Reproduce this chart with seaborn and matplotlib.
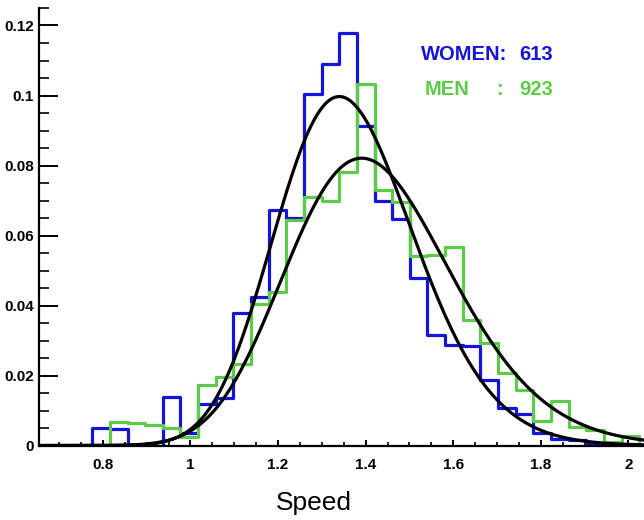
import numpy as np
import pandas as pd
import matplotlib
matplotlib.use("Agg")
import matplotlib.pyplot as plt
from matplotlib.ticker import MultipleLocator, FuncFormatter
import seaborn as sns

# --------------------------------------------------------------------------
# data (fraction of walkers per speed bin)
# --------------------------------------------------------------------------
bin_edges = list(np.linspace(0.655, 2.065, 36))

women_frac = [0, 0, 0, 0.005, 0.0048, 0, 0, 0.0139, 0.0035, 0.012,
              0.0135, 0.038, 0.0425, 0.0672, 0.065, 0.1004, 0.1089, 0.118, 0.0913, 0.070,
              0.0646, 0.0478, 0.0317, 0.0288, 0.0283, 0.0187, 0.0106, 0.009, 0.0037, 0.002,
              0.0015, 0.0005, 0, 0, 0]
men_frac = [0, 0, 0, 0, 0.0068, 0.0063, 0.0059, 0.0051, 0.0023, 0.0173,
            0.0197, 0.0233, 0.0404, 0.044, 0.0645, 0.071, 0.0699, 0.078, 0.1034, 0.073,
            0.0697, 0.054, 0.0544, 0.0568, 0.0359, 0.0292, 0.0206, 0.0159, 0.0071, 0.0127,
            0.0052, 0.0044, 0.001, 0.0026, 0]

# fitted curves (log-normal shape): mode, peak height, sigma of ln(speed)
women_fit = (1.340, 0.0997, 0.118)
men_fit = (1.391, 0.0821, 0.135)

n_women, n_men = 613, 923

BLUE = "#1414dc"
GREEN = "#5ccb48"

centers = [0.5 * (a + b) for a, b in zip(bin_edges[:-1], bin_edges[1:])]
df = pd.DataFrame({
    "speed": centers + centers,
    "frac": women_frac + men_frac,
    "group": ["women"] * len(centers) + ["men"] * len(centers),
})

sns.set_style("ticks")
plt.rcParams["font.family"] = ["Liberation Sans", "DejaVu Sans"]
plt.rcParams["text.color"] = "black"
plt.rcParams["xtick.color"] = "black"
plt.rcParams["ytick.color"] = "black"
plt.rcParams["axes.edgecolor"] = "black"

fig = plt.figure(figsize=(6.44, 5.2), dpi=100)
ax = fig.add_axes([39.3 / 644, 74.5 / 520, 1.41 * 438 / 644, 437.5 / 520])

for grp, col in [("women", BLUE), ("men", GREEN)]:
    sub = df[df.group == grp]
    sns.histplot(x=sub["speed"].values, weights=sub["frac"].values, bins=bin_edges,
                 element="step", fill=False, color=col, linewidth=2.3, ax=ax)

xs = np.linspace(bin_edges[0], bin_edges[-1], 400)
for mode, peak, sig in [women_fit, men_fit]:
    ys = peak * np.exp(-(np.log(xs) - np.log(mode)) ** 2 / (2 * sig ** 2))
    sns.lineplot(x=xs, y=ys, color="black", linewidth=2.3, ax=ax)

ax.set_xlim(bin_edges[0], bin_edges[-1])
ax.set_ylim(0, 0.125)
ax.set_xlabel("")
ax.set_ylabel("")
sns.despine(ax=ax)
for s in ["left", "bottom"]:
    ax.spines[s].set_linewidth(1.6)

ax.xaxis.set_major_locator(MultipleLocator(0.2))
ax.xaxis.set_minor_locator(MultipleLocator(0.05))
ax.yaxis.set_major_locator(MultipleLocator(0.02))
ax.yaxis.set_minor_locator(MultipleLocator(0.005))
fmt = FuncFormatter(lambda v, p: "%g" % round(v, 4))
ax.xaxis.set_major_formatter(fmt)
ax.yaxis.set_major_formatter(fmt)

ax.tick_params(axis="x", which="major", direction="in", length=4.5, width=1.4, pad=9,
               labelsize=11)
ax.tick_params(axis="x", which="minor", direction="in", length=3, width=1.2)
ax.tick_params(axis="y", which="major", direction="in", length=14, width=1.4, pad=4,
               labelsize=11)
ax.tick_params(axis="y", which="minor", direction="in", length=7, width=1.2)
for lab in ax.get_xticklabels() + ax.get_yticklabels():
    lab.set_fontweight("bold")

fig.text(314 / 644, 1 - 503 / 520, "Speed", ha="center", va="center", fontsize=19,
         color="black")

lfs = 14.5
fig.text(507 / 644, 1 - 60 / 520, "WOMEN:", color=BLUE, fontsize=lfs, fontweight="bold",
         ha="right", va="baseline")
fig.text(519 / 644, 1 - 60 / 520, str(n_women), color=BLUE, fontsize=lfs, fontweight="bold",
         ha="left", va="baseline")
fig.text(425 / 644, 1 - 95 / 520, "MEN", color=GREEN, fontsize=lfs, fontweight="bold",
         ha="left", va="baseline")
fig.text(499 / 644, 1 - 95 / 520, ":", color=GREEN, fontsize=lfs, fontweight="bold",
         ha="center", va="baseline")
fig.text(519 / 644, 1 - 95 / 520, str(n_men), color=GREEN, fontsize=lfs, fontweight="bold",
         ha="left", va="baseline")

fig.savefig("out.png", dpi=100)
